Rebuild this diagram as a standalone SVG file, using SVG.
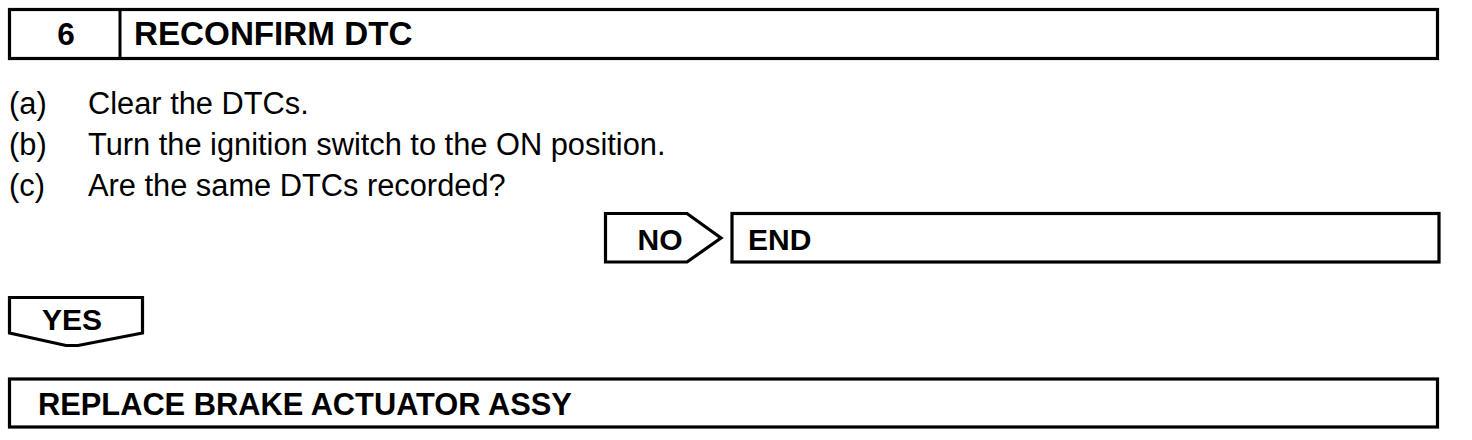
<svg xmlns="http://www.w3.org/2000/svg" width="1472" height="440" viewBox="0 0 1472 440">
<style>
.box{fill:#fff;stroke:#000;stroke-width:3.2;stroke-linejoin:miter}
.b{font-family:"Liberation Sans",Arial,sans-serif;font-weight:bold;fill:#000}
.r{font-family:"Liberation Sans",Arial,sans-serif;fill:#000;font-size:30.8px}
</style>
<rect width="1472" height="440" fill="#fff"/>
<g id="header">
<rect class="box" x="9.5" y="9.5" width="1428" height="49"/>
<line x1="120" y1="9.5" x2="120" y2="58.5" stroke="#000" stroke-width="3"/>
<text class="b" x="66" y="45" font-size="31.5" text-anchor="middle">6</text>
<text class="b" x="134" y="45" font-size="33.2">RECONFIRM DTC</text>
</g>
<g id="steps">
<text class="r" x="9" y="114">(a)</text>
<text class="r" x="88" y="114">Clear the DTCs.</text>
<text class="r" x="9" y="155">(b)</text>
<text class="r" x="88" y="155">Turn the ignition switch to the ON position.</text>
<text class="r" x="9" y="196">(c)</text>
<text class="r" x="88" y="196">Are the same DTCs recorded?</text>
</g>
<g id="connectors">
<g id="no">
<path class="box" d="M605.5 213.5 H687 L721 238 L687 262 H605.5 Z"/>
<text class="b" x="660" y="250" font-size="30" text-anchor="middle">NO</text>
</g>
<g id="yes">
<path class="box" d="M9.5 297.5 H142.5 V333 L78 345.5 H66 L9.5 333 Z"/>
<text class="b" x="72" y="330" font-size="30" text-anchor="middle">YES</text>
</g>
</g>
<g id="end">
<rect class="box" x="732" y="213.5" width="707" height="48.5"/>
<text class="b" x="748" y="250" font-size="30">END</text>
</g>
<g id="replace">
<rect class="box" x="9.5" y="379" width="1428" height="48"/>
<text class="b" x="38" y="415" font-size="30.8">REPLACE BRAKE ACTUATOR ASSY</text>
</g>
</svg>
